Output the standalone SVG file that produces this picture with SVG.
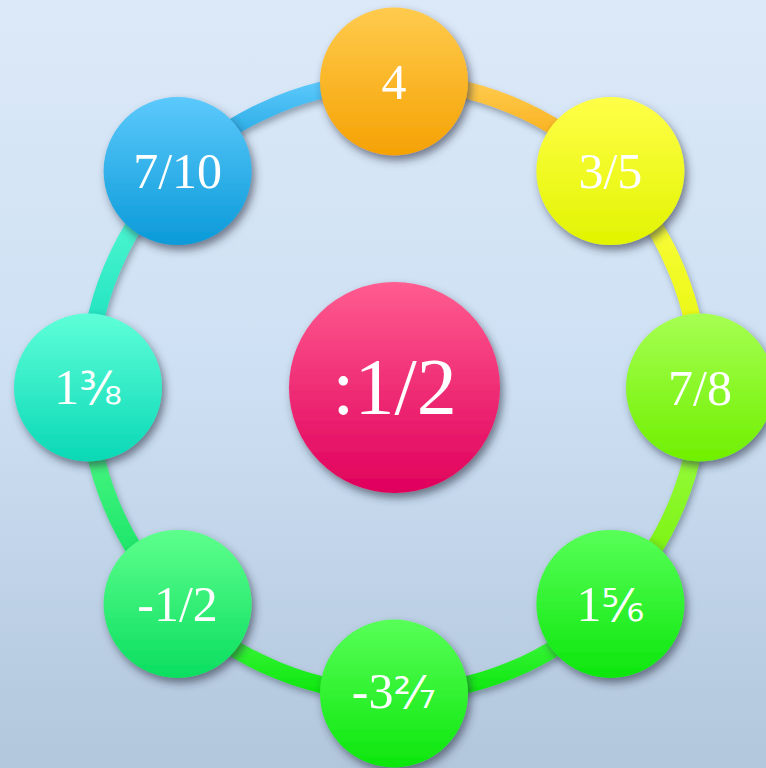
<svg xmlns="http://www.w3.org/2000/svg" width="766" height="768" viewBox="0 0 766 768">
<defs>
<linearGradient id="bg" x1="0" y1="0" x2="0" y2="1"><stop offset="0" stop-color="#dce9f8"/><stop offset="0.5" stop-color="#cde0f3"/><stop offset="1" stop-color="#b2c6dc"/></linearGradient>
<linearGradient id="gOrange" x1="0" y1="0" x2="0" y2="1"><stop offset="0" stop-color="#ffcb4e"/><stop offset="1" stop-color="#f5a203"/></linearGradient>
<linearGradient id="gYellow" x1="0" y1="0" x2="0" y2="1"><stop offset="0" stop-color="#ffff48"/><stop offset="1" stop-color="#e2f400"/></linearGradient>
<linearGradient id="gLime" x1="0" y1="0" x2="0" y2="1"><stop offset="0" stop-color="#a6ff52"/><stop offset="1" stop-color="#6ff000"/></linearGradient>
<linearGradient id="gGreen" x1="0" y1="0" x2="0" y2="1"><stop offset="0" stop-color="#58ff58"/><stop offset="1" stop-color="#0ce60c"/></linearGradient>
<linearGradient id="gMint" x1="0" y1="0" x2="0" y2="1"><stop offset="0" stop-color="#5eff8c"/><stop offset="1" stop-color="#0ade60"/></linearGradient>
<linearGradient id="gTeal" x1="0" y1="0" x2="0" y2="1"><stop offset="0" stop-color="#5effd8"/><stop offset="1" stop-color="#0ad8b6"/></linearGradient>
<linearGradient id="gBlue" x1="0" y1="0" x2="0" y2="1"><stop offset="0" stop-color="#5cc9fc"/><stop offset="1" stop-color="#0a9ad8"/></linearGradient>
<linearGradient id="gPink" x1="0" y1="0" x2="0" y2="1"><stop offset="0" stop-color="#ff5c90"/><stop offset="1" stop-color="#e0005c"/></linearGradient>
<filter id="sh" x="-30%" y="-30%" width="160%" height="160%"><feDropShadow dx="3" dy="5" stdDeviation="4" flood-color="#2a3444" flood-opacity="0.6"/></filter>
<filter id="shl" x="-30%" y="-30%" width="160%" height="160%"><feDropShadow dx="2" dy="4" stdDeviation="3" flood-color="#2a3444" flood-opacity="0.4"/></filter>
</defs>
<style>
.arc{fill:none;stroke-width:17;filter:url(#shl)}
.node{filter:url(#sh)}
.t{fill:#ffffff;font-family:"Liberation Serif","DejaVu Serif",serif;font-size:50px;text-anchor:middle}
.f{font-family:"DejaVu Sans",sans-serif;font-size:44px}
.c{font-size:80px}
</style>
<rect x="0" y="0" width="766" height="768" fill="url(#bg)"/>
<g id="connectors">
<path class="arc" stroke="url(#gOrange)" d="M394 81.5 A306 306 0 0 1 610.4 171.1"/>
<path class="arc" stroke="url(#gYellow)" d="M610.4 171.1 A306 306 0 0 1 700 387.5"/>
<path class="arc" stroke="url(#gLime)" d="M700 387.5 A306 306 0 0 1 610.4 603.9"/>
<path class="arc" stroke="url(#gGreen)" d="M610.4 603.9 A306 306 0 0 1 394 693.5"/>
<path class="arc" stroke="url(#gGreen)" d="M394 693.5 A306 306 0 0 1 177.6 603.9"/>
<path class="arc" stroke="url(#gMint)" d="M177.6 603.9 A306 306 0 0 1 88 387.5"/>
<path class="arc" stroke="url(#gTeal)" d="M88 387.5 A306 306 0 0 1 177.6 171.1"/>
<path class="arc" stroke="url(#gBlue)" d="M177.6 171.1 A306 306 0 0 1 394 81.5"/>
</g>
<g id="center">
<circle class="node" cx="394.5" cy="387.5" r="105.5" fill="url(#gPink)"/>
<text class="t c" x="394.5" y="414">:1/2</text>
</g>
<g id="n1">
<circle class="node" cx="394" cy="81.5" r="74" fill="url(#gOrange)"/>
<text class="t" x="394" y="98.5">4</text>
</g>
<g id="n2">
<circle class="node" cx="610.4" cy="171.1" r="74" fill="url(#gYellow)"/>
<text class="t" x="610.4" y="188">3/5</text>
</g>
<g id="n3">
<circle class="node" cx="700" cy="387.5" r="74" fill="url(#gLime)"/>
<text class="t" x="700" y="404.5">7/8</text>
</g>
<g id="n4">
<circle class="node" cx="610.4" cy="603.9" r="74" fill="url(#gGreen)"/>
<text class="t" x="610.4" y="620.5">1<tspan class="f">⅚</tspan></text>
</g>
<g id="n5">
<circle class="node" cx="394" cy="693.5" r="74" fill="url(#gGreen)"/>
<text class="t" x="394" y="708">-3<tspan class="f">²⁄₇</tspan></text>
</g>
<g id="n6">
<circle class="node" cx="177.6" cy="603.9" r="74" fill="url(#gMint)"/>
<text class="t" x="177.6" y="620.5">-1/2</text>
</g>
<g id="n7">
<circle class="node" cx="88" cy="387.5" r="74" fill="url(#gTeal)"/>
<text class="t" x="88" y="403.5">1<tspan class="f">⅜</tspan></text>
</g>
<g id="n8">
<circle class="node" cx="177.6" cy="171.1" r="74" fill="url(#gBlue)"/>
<text class="t" x="177.6" y="188">7/10</text>
</g>
</svg>
